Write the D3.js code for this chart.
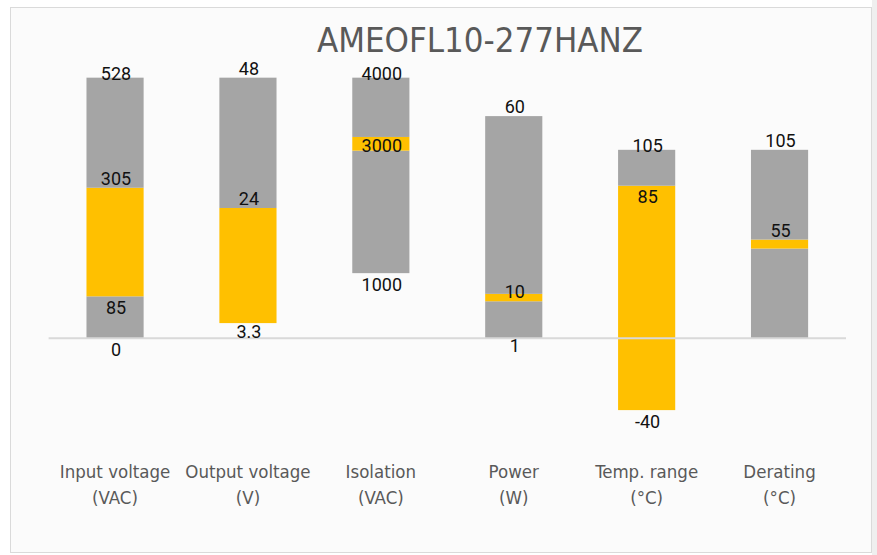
<!DOCTYPE html>
<html>
<head>
<meta charset="utf-8">
<script src="https://cdn.jsdelivr.net/npm/d3@7"></script>
<style>
  html, body { margin: 0; padding: 0; background: #ffffff; }
  svg { display: block; }
</style>
</head>
<body>
<svg id="chart"></svg>
<script>
// chart data
const title = 'AMEOFL10-277HANZ';
const categories = ['Input voltage', 'Output voltage', 'Isolation', 'Power', 'Temp. range', 'Derating'];
const units = ['(VAC)', '(V)', '(VAC)', '(W)', '(°C)', '(°C)'];

// segment bounds per category, raw units
const barBottom = [0, 2.8, 1000, 0, -40, 0];
const bandLow = [85, 2.8, 2880, 10, -40, 50];
const bandHigh = [305, 24, 3090, 12, 85, 55];
const barTop = [528, 48, 4000, 60, 105, 105];
// each category has its own scale: chart units per raw unit
const unitFactor = [0.275, 3.025, 0.0363, 2.063, 1, 1];

// labels shown on the bars
const labelValues = [[528, 305, 85, 0], [48, 24, 3.3], [4000, 3000, 1000], [60, 10, 1], [105, 85, -40], [105, 55]];
const labelText = [['528', '305', '85', '0'], ['48', '24', '3.3'], ['4000', '3000', '1000'], ['60', '10', '1'], ['105', '85', '-40'], ['105', '55']];

// where each label sits relative to its value
const labelPlace = [['on', 'above', 'below', 'below'], ['above', 'above', 'below'], ['on', 'mid', 'below'], ['above', 'above', 'below'], ['on', 'below', 'below'], ['above', 'above']];
const placeOffset = { on: -4.5, above: -9.5, below: 11, mid: 2.5 };

const W = 877, H = 555;
const grey = '#a5a5a5', yellow = '#ffc000';

const svg = d3.select('#chart').attr('width', W).attr('height', H);

// frame
svg.append('rect').attr('x', 872).attr('y', 0).attr('width', 5).attr('height', H).attr('fill', '#efefef');
svg.append('rect')
  .attr('x', 10.5).attr('y', 7.5)
  .attr('width', 861).attr('height', 545)
  .attr('fill', '#fbfbfb')
  .attr('stroke', '#dadada')
  .attr('stroke-width', 1);

svg.append('text')
  .attr('x', 480).attr('y', 40)
  .attr('text-anchor', 'middle')
  .attr('dominant-baseline', 'central')
  .attr('font-family', '"Liberation Sans Narrow", "DejaVu Sans Condensed", sans-serif')
  .attr('font-size', 34.5)
  .attr('fill', '#595959')
  .text(title);

const x = d3.scaleBand()
  .domain(categories)
  .range([48.6, 846])
  .paddingInner(0.57)
  .paddingOuter(0.285);

const y = d3.scaleLinear()
  .domain([0, 100])
  .range([338.3, 338.3 - 179.5]);

const g = svg.append('g');

// build segments
const segments = [];
categories.forEach((c, i) => {
  const f = unitFactor[i];
  segments.push({ cat: c, y0: barBottom[i] * f, y1: bandLow[i] * f, color: grey });
  segments.push({ cat: c, y0: bandLow[i] * f, y1: bandHigh[i] * f, color: yellow });
  segments.push({ cat: c, y0: bandHigh[i] * f, y1: barTop[i] * f, color: grey });
});

g.selectAll('.bar')
  .data(segments.filter(d => d.y1 > d.y0))
  .enter().append('rect')
  .attr('class', 'bar')
  .attr('x', d => x(d.cat))
  .attr('width', x.bandwidth())
  .attr('y', d => y(d.y1))
  .attr('height', d => y(d.y0) - y(d.y1))
  .attr('fill', d => d.color);

// zero line
g.append('line')
  .attr('x1', 48.6).attr('x2', 846)
  .attr('y1', y(0)).attr('y2', y(0))
  .attr('stroke', '#d9d9d9')
  .attr('stroke-width', 2);

// value labels
const labels = [];
categories.forEach((c, i) => {
  labelValues[i].forEach((v, j) => {
    labels.push({ cat: c, v: v * unitFactor[i], text: labelText[i][j], place: labelPlace[i][j] });
  });
});

g.selectAll('.lbl')
  .data(labels)
  .enter().append('text')
  .attr('class', 'lbl')
  .attr('x', d => x(d.cat) + x.bandwidth() / 2 + 1)
  .attr('y', d => y(d.v) + placeOffset[d.place])
  .attr('text-anchor', 'middle')
  .attr('dominant-baseline', 'central')
  .attr('font-family', 'Roboto, sans-serif')
  .attr('font-size', 18)
  .attr('fill', '#111111')
  .text(d => d.text);

// category axis labels
const cat = g.selectAll('.cat')
  .data(categories)
  .enter().append('text')
  .attr('class', 'cat')
  .attr('text-anchor', 'middle')
  .attr('font-family', '"Liberation Sans Narrow", "DejaVu Sans Condensed", sans-serif')
  .attr('font-size', 18.5)
  .attr('fill', '#595959');

cat.append('tspan')
  .attr('x', d => x(d) + x.bandwidth() / 2)
  .attr('y', 471)
  .attr('dominant-baseline', 'central')
  .text(d => d);

cat.append('tspan')
  .attr('x', d => x(d) + x.bandwidth() / 2)
  .attr('y', 497)
  .attr('dominant-baseline', 'central')
  .text((d, i) => units[i]);
</script>
</body>
</html>
